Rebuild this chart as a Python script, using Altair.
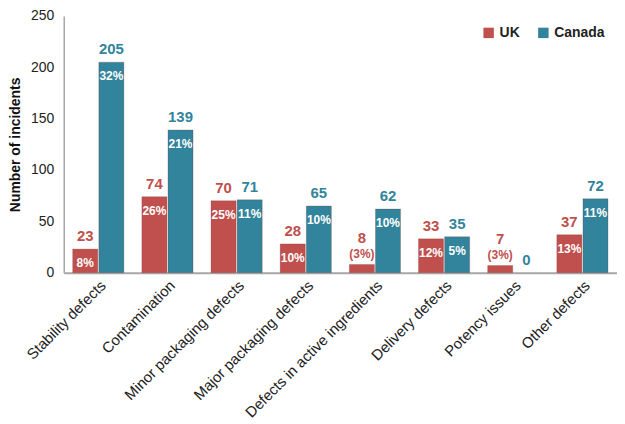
import altair as alt
import pandas as pd

categories = ["Stability defects", "Contamination", "Minor packaging defects",
              "Major packaging defects", "Defects in active ingredients",
              "Delivery defects", "Potency issues", "Other defects"]
countries = ["UK", "Canada"]
uk_values = [23, 74, 70, 28, 8, 33, 7, 37]
canada_values = [205, 139, 71, 65, 62, 35, 0, 72]
uk_pct_inside = ["8%", "26%", "25%", "10%", "", "12%", "", "13%"]
uk_pct_above = ["", "", "", "", "(3%)", "", "(3%)", ""]
canada_pct_inside = ["32%", "21%", "11%", "10%", "10%", "5%", "", "11%"]
canada_pct_above = ["", "", "", "", "", "", "", ""]
y_ticks = [0, 50, 100, 150, 200, 250]

rows = []
for i, c in enumerate(categories):
    rows.append(dict(category=c, country="UK", value=uk_values[i],
                     pin=uk_pct_inside[i], pout=uk_pct_above[i]))
    rows.append(dict(category=c, country="Canada", value=canada_values[i],
                     pin=canada_pct_inside[i], pout=canada_pct_above[i]))
df = pd.DataFrame(rows)

FONT = "Liberation Sans"
bar_colors = ["#C0504D", "#31849B"]
text_colors = ["#C0504D", "#31849B"]

x_enc = alt.X("category:N", sort=categories, title=None,
              scale=alt.Scale(paddingInner=0.26, paddingOuter=0.13),
              axis=alt.Axis(labelAngle=-45, labelFontSize=15, labelColor="#222222",
                            labelFont=FONT, ticks=False, domainColor="#A6A6A6",
                            domainWidth=2, labelPadding=5, labelLimit=300))
xo = alt.XOffset("country:N", sort=countries,
                 scale=alt.Scale(paddingInner=0.04))
y_enc = alt.Y("value:Q", title="Number of incidents",
              scale=alt.Scale(domain=[0, 250], nice=False),
              axis=alt.Axis(values=y_ticks, grid=False, ticks=False,
                            domainColor="#A6A6A6", domainWidth=1.5,
                            labelFontSize=14, labelColor="#222222", labelFont=FONT,
                            labelPadding=10, titleFont=FONT, titleFontSize=14,
                            titleFontWeight="bold", titleColor="#111111",
                            titlePadding=8))

base = alt.Chart(df).encode(x=x_enc, xOffset=xo, y=y_enc)

bars = base.transform_filter("datum.value > 0").mark_bar(
    stroke="#7f2b28", strokeWidth=0.5, strokeOpacity=0.5
).encode(
    color=alt.Color("country:N", sort=countries, title=None,
                    scale=alt.Scale(domain=countries, range=bar_colors),
                    legend=alt.Legend(orient="none", legendX=420, legendY=10,
                                      direction="horizontal", symbolType="square",
                                      symbolSize=110, labelFontSize=14,
                                      labelFontWeight="bold", labelFont=FONT,
                                      labelColor="#222222", columnPadding=16,
                                      symbolStrokeWidth=0))
)

tcolor = alt.Color("country:N", sort=countries,
                   scale=alt.Scale(domain=countries, range=text_colors), legend=None)

val_plain = base.transform_filter("datum.pout == ''").mark_text(
    dy=-13, fontSize=15, fontWeight="bold", font=FONT
).encode(text="value:Q", color=tcolor)

val_high = base.transform_filter("datum.pout != ''").mark_text(
    dy=-27, fontSize=15, fontWeight="bold", font=FONT
).encode(text="value:Q", color=tcolor)

pct_out = base.transform_filter("datum.pout != ''").mark_text(
    dy=-11, fontSize=12, fontWeight="bold", font=FONT
).encode(text="pout:N", color=tcolor)

pct_in = base.transform_filter("datum.pin != ''").mark_text(
    dy=14, fontSize=12, fontWeight="bold", font=FONT, color="white"
).encode(text="pin:N")

chart = alt.layer(bars, val_plain, val_high, pct_out, pct_in).properties(
    width=556, height=258, padding={"left": 0, "top": 0, "right": 0, "bottom": 0}
).configure_view(stroke=None)

chart.save("out.html", embed_options={"renderer": "svg", "actions": False})
